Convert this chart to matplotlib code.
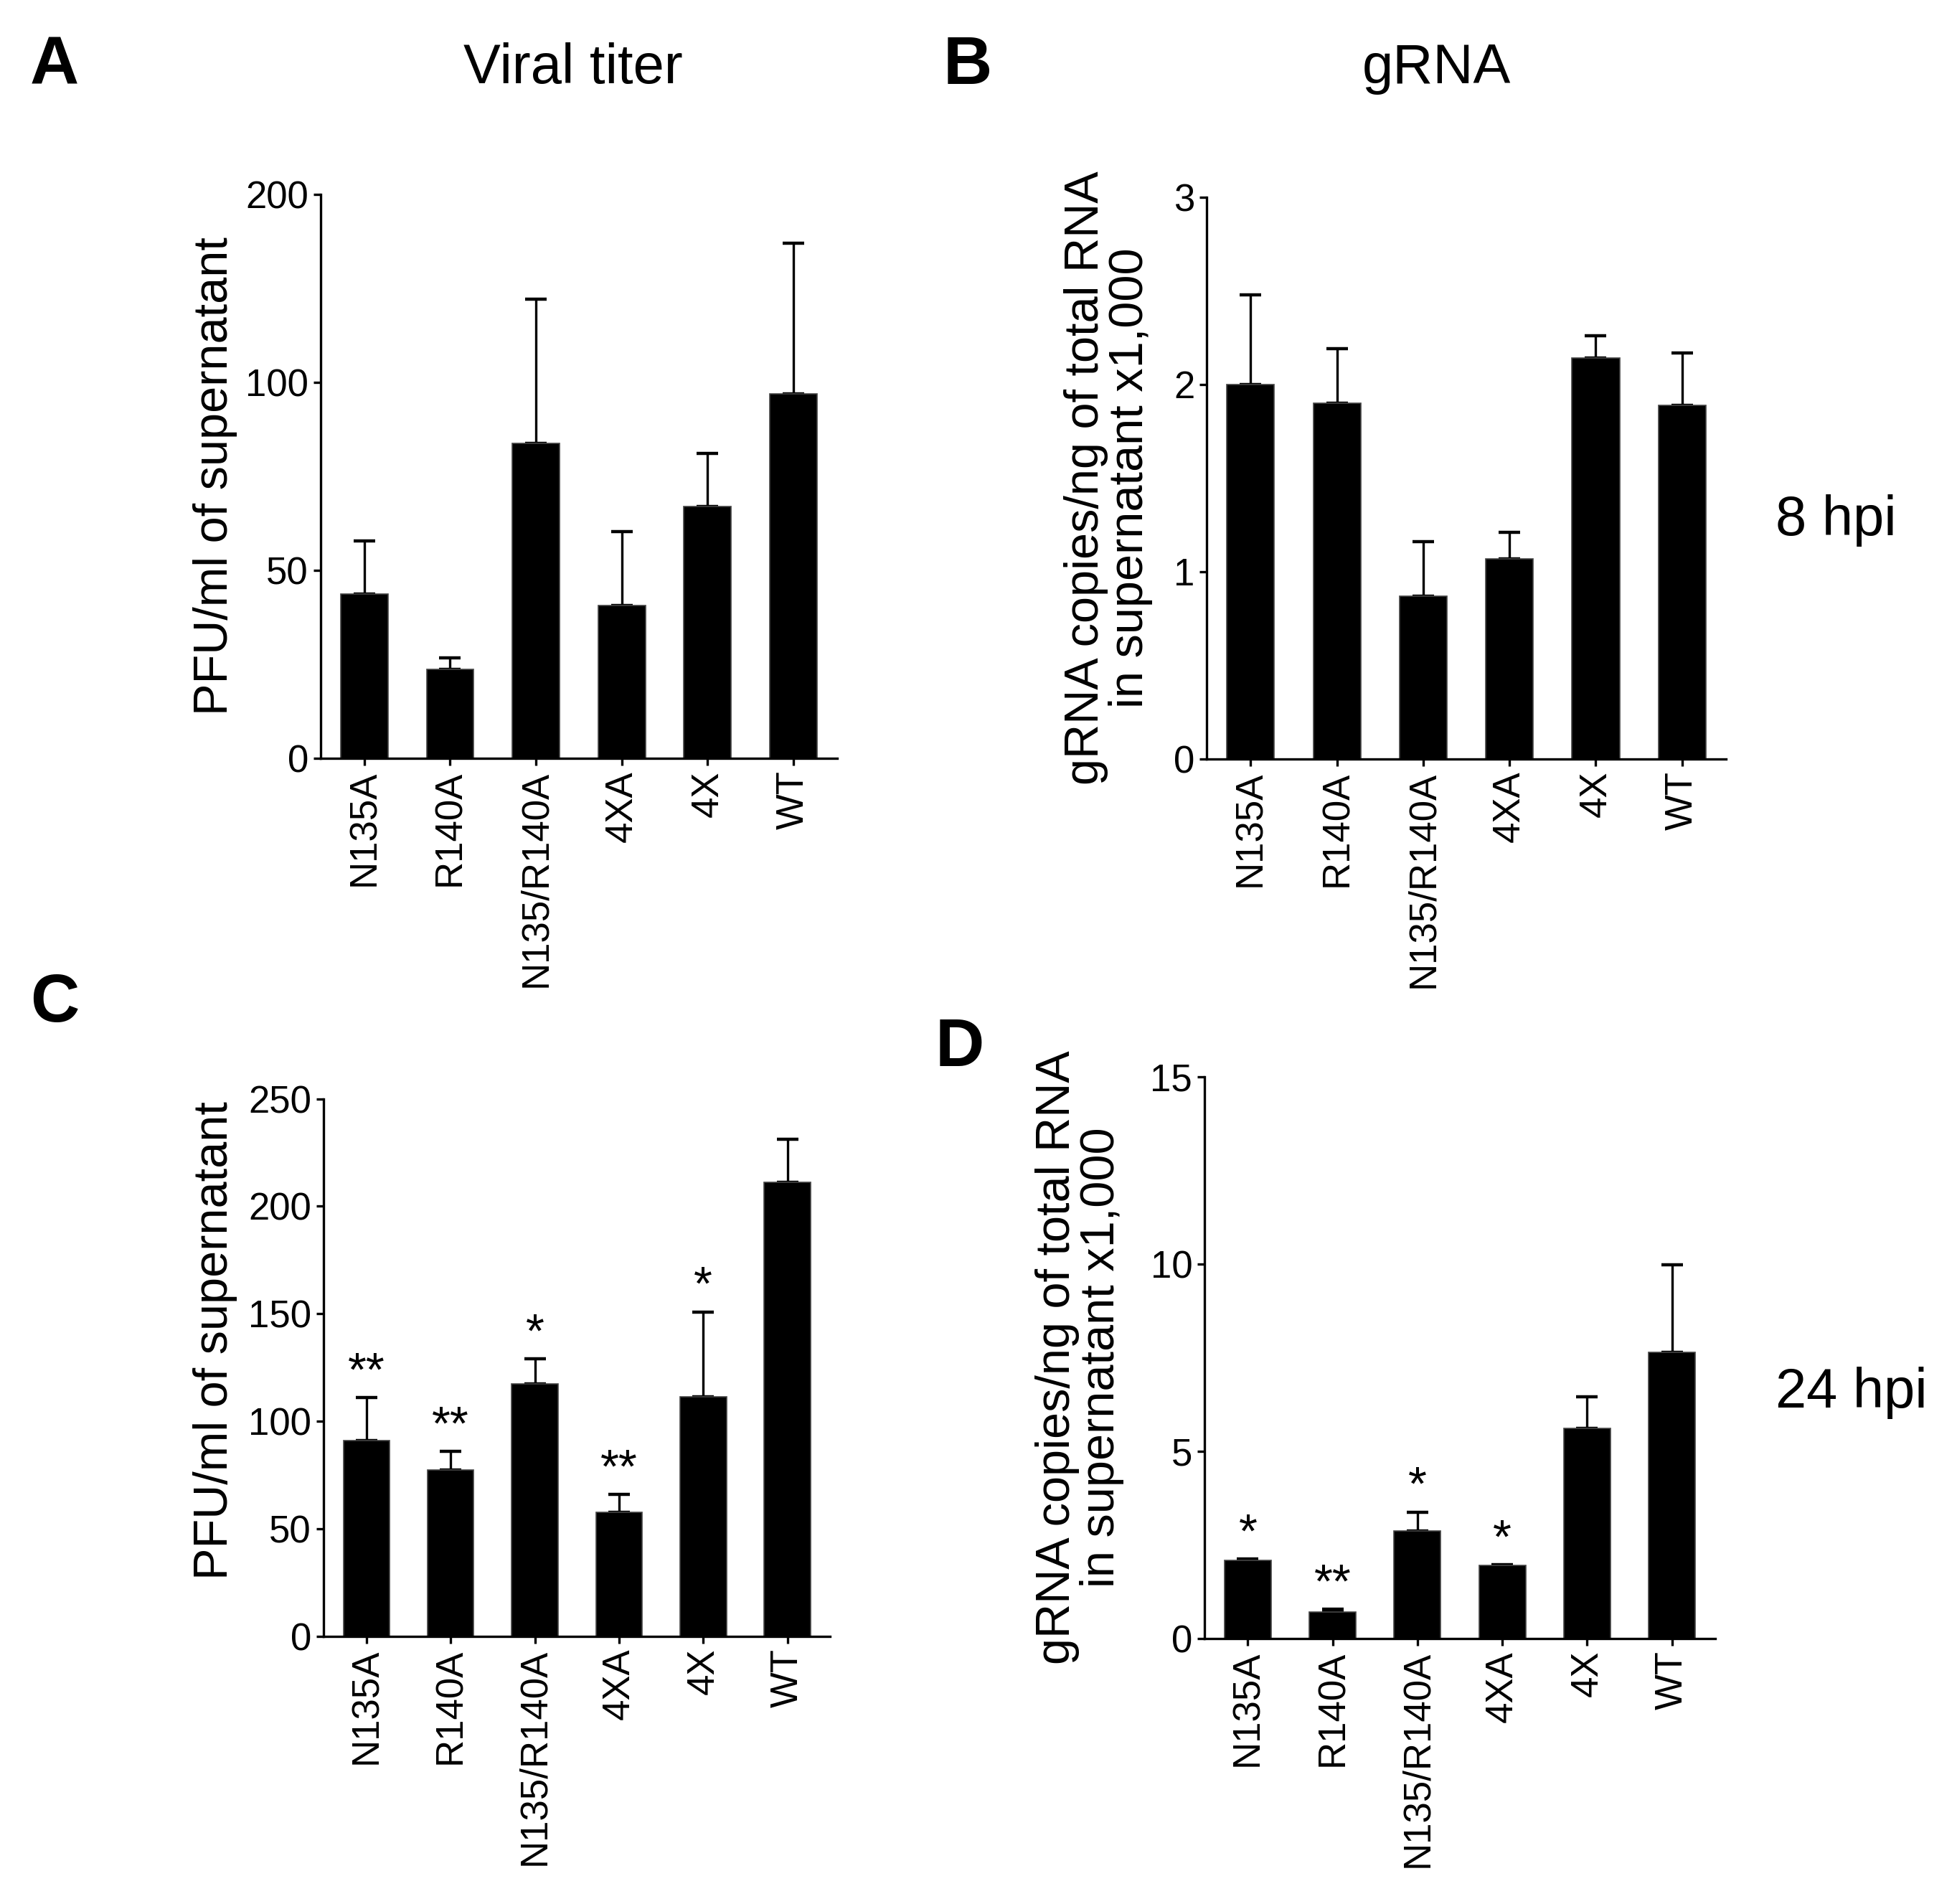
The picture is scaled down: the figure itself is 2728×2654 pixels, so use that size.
import matplotlib
matplotlib.use("Agg")
import matplotlib.pyplot as plt

plt.rcParams['font.family'] = ['Liberation Sans', 'DejaVu Sans']

labels = ["N135A", "R140A", "N135/R140A", "4XA", "4X", "WT"]

# 8 hpi
titer_8h = [43.7, 23.6, 83.7, 40.7, 67.0, 96.9]
titer_8h_err = [14.1, 3.2, 38.3, 19.5, 14.0, 40.1]
grna_8h = [2.00, 1.90, 0.87, 1.07, 2.14, 1.89]
grna_8h_err = [0.48, 0.29, 0.29, 0.14, 0.12, 0.28]

# 24 hpi
titer_24h = [91.1, 77.3, 117.2, 57.5, 111.2, 211.2]
titer_24h_err = [19.8, 8.6, 11.8, 8.3, 39.7, 20.1]
grna_24h = [2.09, 0.71, 2.87, 1.95, 5.62, 7.65]
grna_24h_err = [0.04, 0.08, 0.51, 0.02, 0.84, 2.34]

stars_titer_24h = ["**", "**", "*", "**", "*", ""]
stars_grna_24h = ["*", "**", "*", "*", "", ""]

titer_ticks = [0, 50, 100, 150]
titer_ticklabels = ["0", "50", "100", "200"]   # as printed on the original panel

fig = plt.figure(figsize=(13.64, 13.27), dpi=200)

lw = 1.2


def panel(rect, vals, errs, yticks, yticklabels, ylabel, lab_xy, stars=None):
    ax = fig.add_axes(rect)
    x = list(range(len(labels)))
    ax.bar(x, vals, width=0.55, color="black", edgecolor="#444444", linewidth=0.6, zorder=2)
    ax.errorbar(x, vals, yerr=[[0] * len(errs), errs], fmt="none", ecolor="black",
                elinewidth=1.2, capsize=5.4, capthick=1.6, zorder=1)
    ax.set_xlim(-0.51, len(labels) - 0.49)
    ax.set_ylim(yticks[0], yticks[-1])
    ax.set_yticks(yticks)
    ax.set_yticklabels(yticklabels)
    ax.set_xticks(x)
    ax.set_xticklabels(labels, rotation=90)
    for s in ["top", "right"]:
        ax.spines[s].set_visible(False)
    for s in ["left", "bottom"]:
        ax.spines[s].set_linewidth(lw)
    ax.tick_params(axis="both", direction="out", length=3.6, width=lw, labelsize=19, pad=2.5)
    ax.set_ylabel(ylabel, fontsize=24, linespacing=1.0)
    ax.yaxis.set_label_coords(*lab_xy)
    if stars:
        for xi, v, e, s in zip(x, vals, errs, stars):
            if s:
                ax.annotate(s, (xi, v + e), xytext=(0, 1), textcoords="offset points",
                            ha="center", va="bottom", fontsize=24)
    return ax


panel([0.1638, 0.6017, 0.264, 0.2963], titer_8h, titer_8h_err, titer_ticks, titer_ticklabels,
      "PFU/ml of supernatant", (-0.161, 0.5))
panel([0.6166, 0.6014, 0.2654, 0.295], grna_8h, grna_8h_err, [0, 1, 2, 3], ["0", "1", "2", "3"],
      "gRNA copies/ng of total RNA\nin supernatant x1,000", (-0.104, 0.5))
panel([0.1653, 0.1407, 0.259, 0.2822], titer_24h, titer_24h_err, [0, 50, 100, 150, 200, 250],
      ["0", "50", "100", "150", "200", "250"], "PFU/ml of supernatant", (-0.17, 0.55),
      stars=stars_titer_24h)
panel([0.6155, 0.1394, 0.261, 0.295], grna_24h, grna_24h_err, [0, 5, 10, 15], ["0", "5", "10", "15"],
      "gRNA copies/ng of total RNA\nin supernatant x1,000", (-0.157, 0.5),
      stars=stars_grna_24h)

fig.text(0.0154, 0.965, "A", fontsize=34, fontweight="bold", va="center")
fig.text(0.482, 0.965, "B", fontsize=34, fontweight="bold", va="center")
fig.text(0.0154, 0.4725, "C", fontsize=34, fontweight="bold", va="center")
fig.text(0.478, 0.4495, "D", fontsize=34, fontweight="bold", va="center")
fig.text(0.293, 0.964, "Viral titer", fontsize=28, ha="center", va="center")
fig.text(0.734, 0.964, "gRNA", fontsize=28, ha="center", va="center")
fig.text(0.938, 0.7265, "8 hpi", fontsize=28, ha="center", va="center")
fig.text(0.946, 0.2685, "24 hpi", fontsize=28, ha="center", va="center")

fig.savefig("out.png", dpi=200)
